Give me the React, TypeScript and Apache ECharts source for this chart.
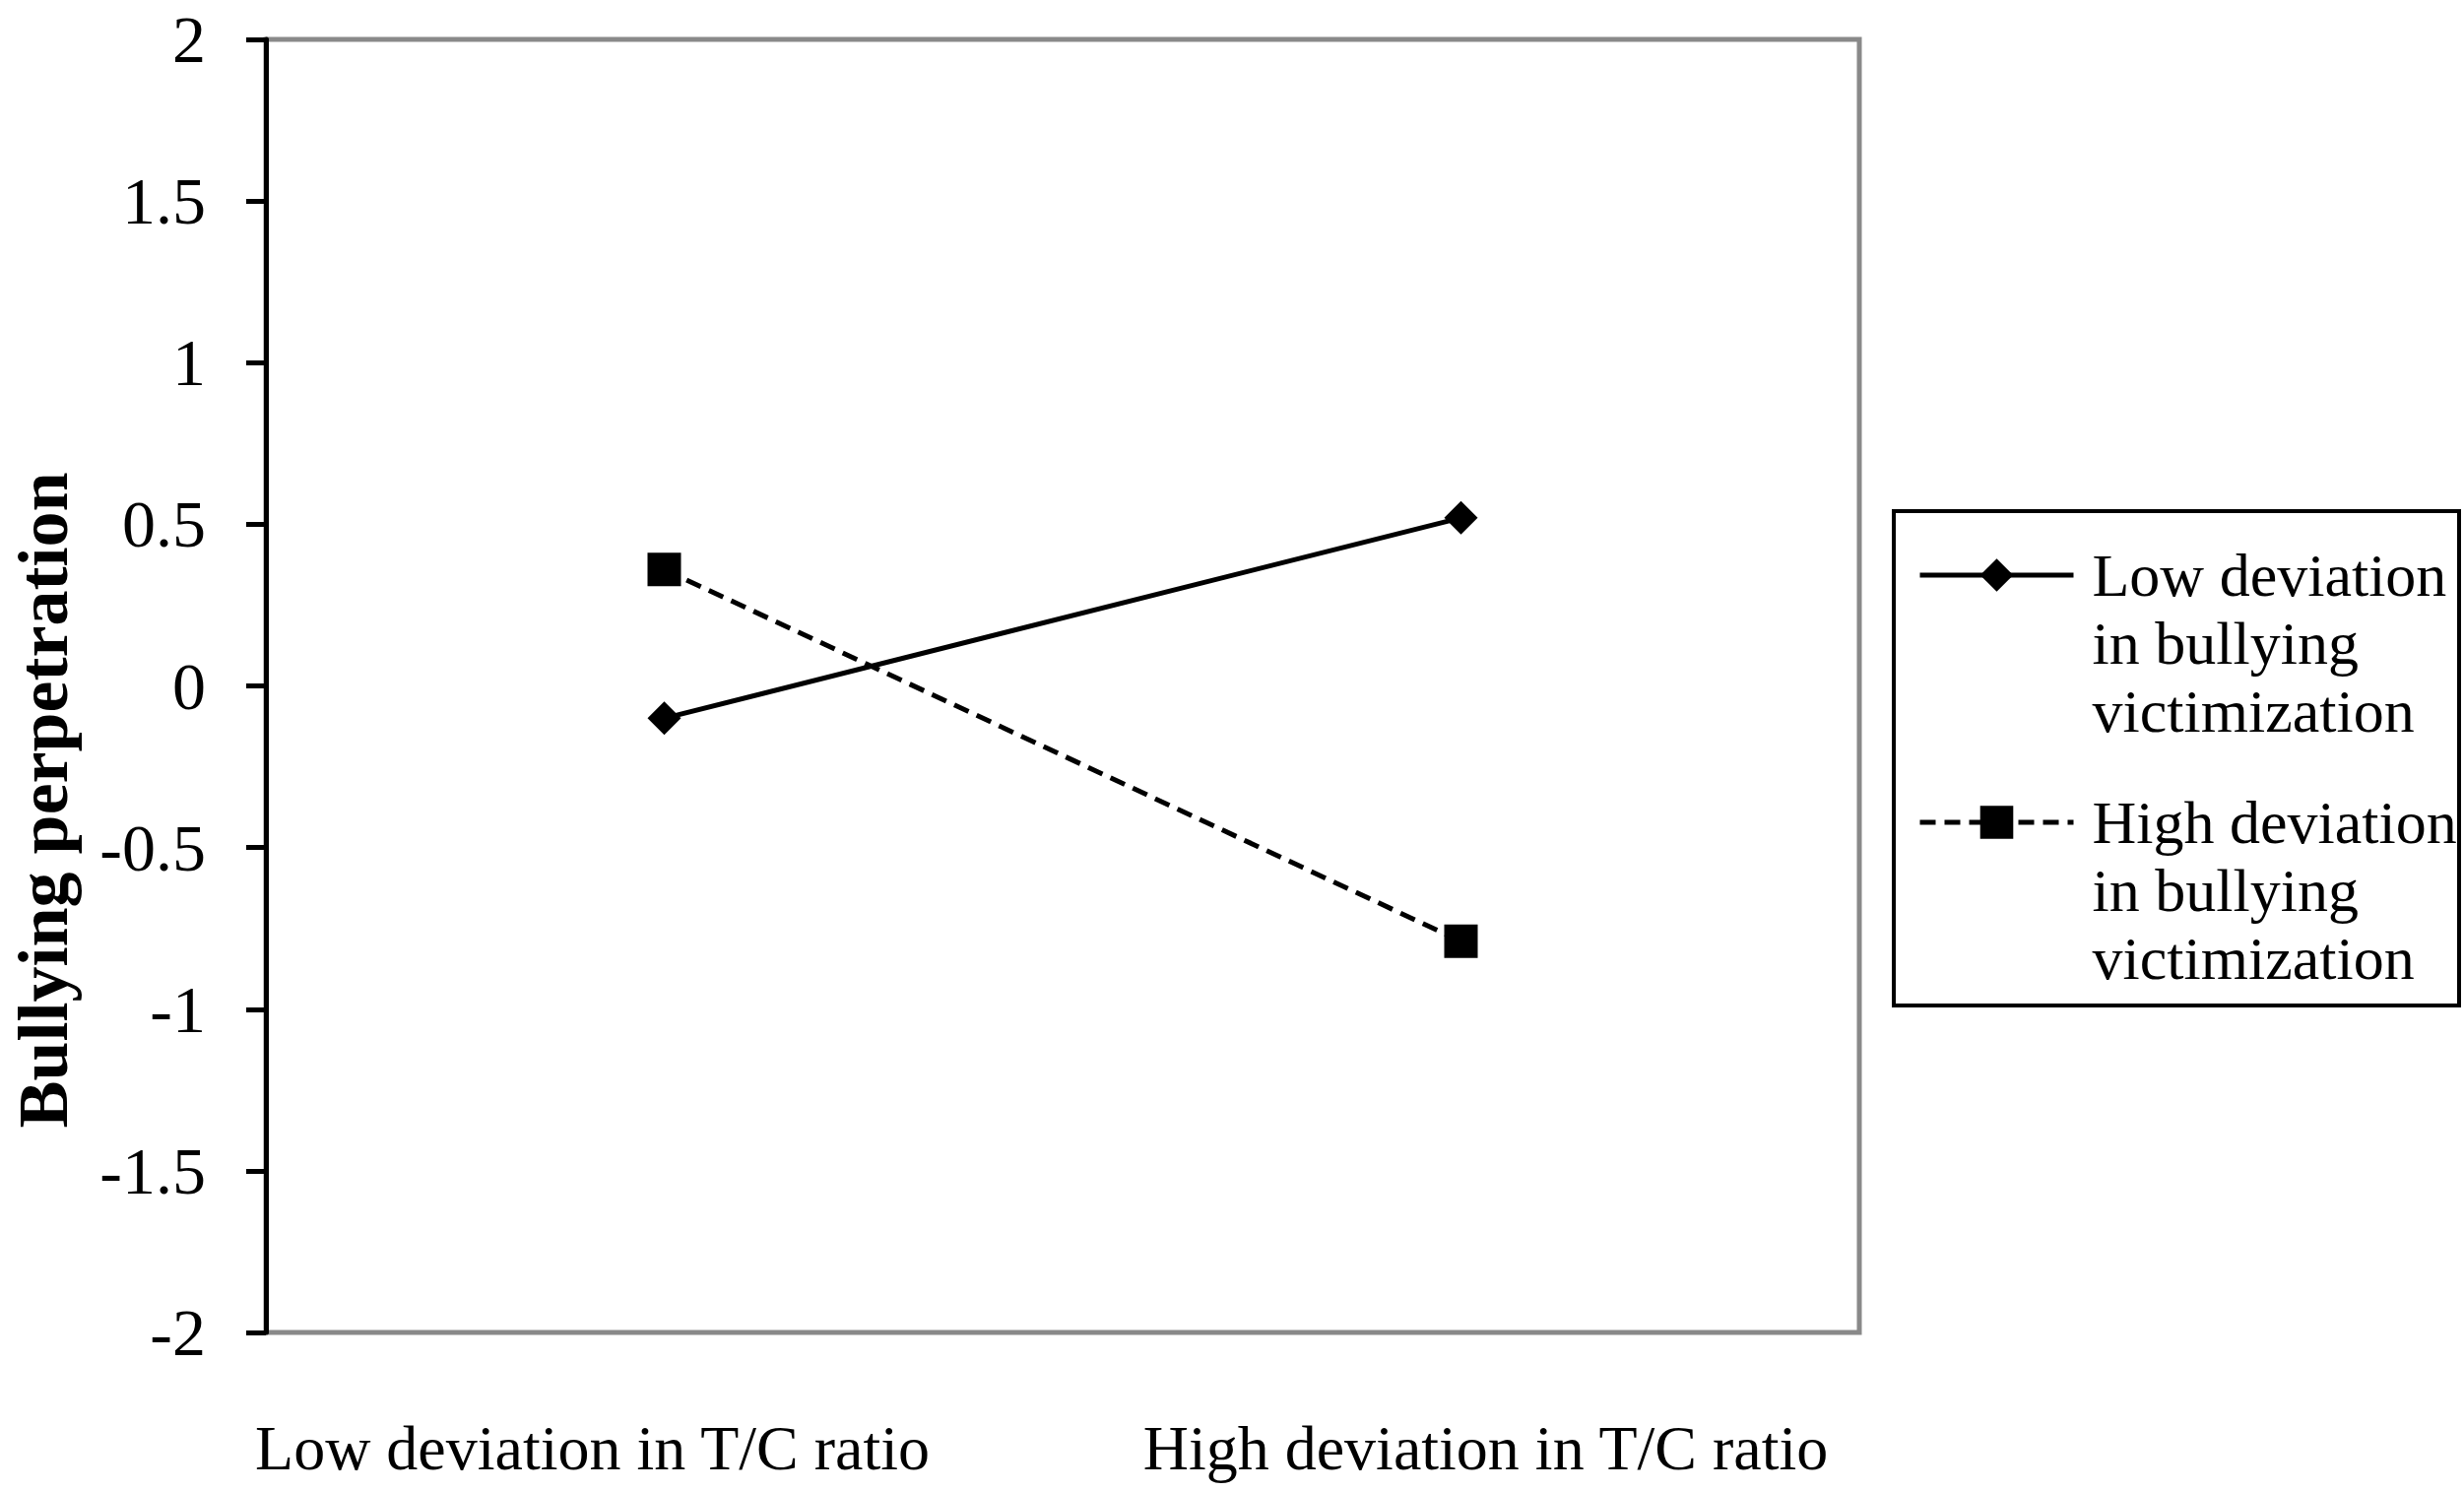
import * as echarts from "echarts";
import { useEffect, useRef } from "react";

const categories = ["Low deviation in T/C ratio", "High deviation in T/C ratio"];
const lowDeviationVictim = [-0.1, 0.52];
const highDeviationVictim = [0.36, -0.79];
const seriesNames = [
  "Low deviation\nin bullying\nvictimization",
  "High deviation\nin bullying\nvictimization",
];
const yTicks = { min: -2, max: 2, interval: 0.5 };

const FONT = "'Liberation Serif', 'Times New Roman', serif";

// two blank lines in front keep the first text line level with the icon
const legendFor = (name: string, top: number) => ({
  data: [name],
  orient: "vertical",
  left: 1947,
  top,
  padding: 0,
  itemWidth: 156,
  itemHeight: 42,
  selectedMode: false,
  formatter: (n: string) => "\n\n" + n,
  lineStyle: { width: 5 },
  textStyle: {
    fontFamily: FONT,
    fontSize: 62,
    lineHeight: 69,
    color: "#000",
    padding: [0, 0, 0, 14],
  },
});

export default function App() {
  const chartRef = useRef<HTMLDivElement>(null);

  useEffect(() => {
    const chart = echarts.init(chartRef.current!, undefined, { renderer: "svg" });
    chart.setOption({
      animation: false,
      backgroundColor: "#fff",
      grid: {
        left: 268,
        right: 614,
        top: 40,
        bottom: 161,
        show: true,
        borderColor: "#898989",
        borderWidth: 5,
      },
      legend: [legendFor(seriesNames[0], 411.5), legendFor(seriesNames[1], 662.5)],
      graphic: [
        {
          type: "rect",
          shape: { x: 1923, y: 519, width: 574, height: 502 },
          style: { fill: "none", stroke: "#000", lineWidth: 4 },
        },
      ],
      xAxis: {
        type: "category",
        data: categories,
        boundaryGap: true,
        axisLine: { show: false },
        axisTick: { show: false },
        splitLine: { show: false },
        axisLabel: {
          interval: 0,
          hideOverlap: false,
          margin: 85,
          fontFamily: FONT,
          fontSize: 64,
          color: "#000",
          formatter: (v: string, i: number) => `{${i === 0 ? "l" : "h"}|${v}}`,
          rich: {
            l: { fontFamily: FONT, fontSize: 64, color: "#000", padding: [0, 146, 0, 0] },
            h: { fontFamily: FONT, fontSize: 64, color: "#000", padding: [0, 0, 0, 50] },
          },
        },
      },
      yAxis: {
        type: "value",
        min: yTicks.min,
        max: yTicks.max,
        interval: yTicks.interval,
        name: "Bullying perpetration",
        nameLocation: "middle",
        nameRotate: 90,
        nameGap: 190,
        nameTextStyle: {
          fontFamily: FONT,
          fontSize: 72,
          fontWeight: "bold",
          color: "#000",
          padding: [0, 232, 0, 0],
        },
        splitLine: { show: false },
        axisLine: { show: true, lineStyle: { color: "#000", width: 5 } },
        axisTick: { show: true, length: 20, lineStyle: { color: "#000", width: 5 } },
        axisLabel: {
          margin: 61,
          fontFamily: FONT,
          fontSize: 68,
          color: "#000",
        },
      },
      series: [
        {
          name: seriesNames[0],
          type: "line",
          data: lowDeviationVictim,
          symbol: "diamond",
          symbolSize: 34,
          itemStyle: { color: "#000" },
          lineStyle: { color: "#000", width: 5, type: "solid" },
        },
        {
          name: seriesNames[1],
          type: "line",
          data: highDeviationVictim,
          symbol: "rect",
          symbolSize: 34,
          itemStyle: { color: "#000" },
          lineStyle: { color: "#000", width: 5, type: [16, 9] },
        },
      ],
    });
    return () => chart.dispose();
  }, []);

  return (
    <div
      ref={chartRef}
      style={{ position: "fixed", left: 0, top: 0, width: 2502, height: 1514 }}
    />
  );
}
